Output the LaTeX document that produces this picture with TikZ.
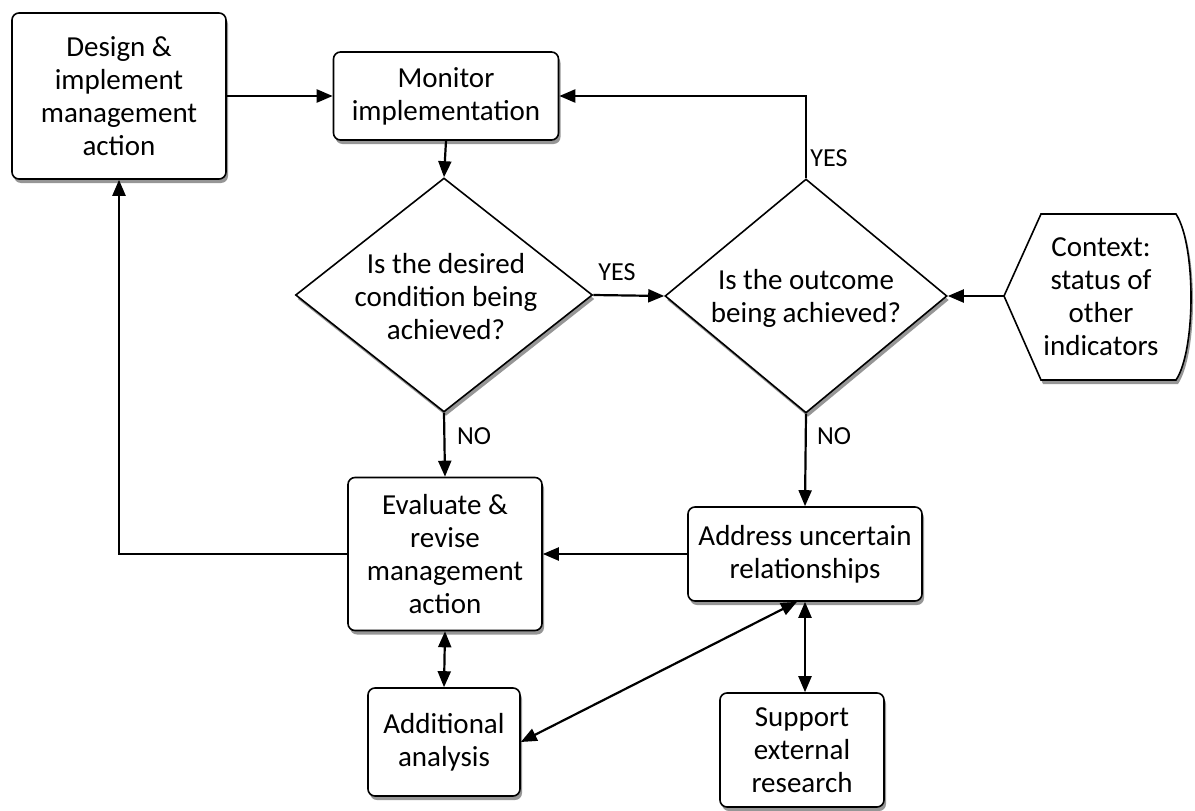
\documentclass[tikz,border=0pt]{standalone}
\usepackage{fontspec}
\setmainfont{Carlito}
\usetikzlibrary{arrows.meta,shapes.geometric,shadows,calc}
\tikzset{
  shad/.style={drop shadow={shadow xshift=2pt, shadow yshift=-4pt, opacity=0.55, fill=black!75}},
  box/.style={draw, line width=1.6pt, rounded corners=7pt, fill=white, align=center, inner sep=0pt, shad,
    font=\fontsize{29}{33}\selectfont},
  dia/.style={draw, line width=1.6pt, diamond, fill=white, inner sep=0pt, shad},
  txt/.style={align=center, inner sep=0pt, font=\fontsize{29}{33}\selectfont},
  lbl/.style={inner sep=0pt, font=\fontsize{26}{30}\selectfont},
  arr/.style={line width=2.2pt, -{Triangle[length=16pt,width=13pt]}},
  darr/.style={line width=2.2pt, {Triangle[length=16pt,width=13pt]}-{Triangle[length=16pt,width=13pt]}},
}
\begin{document}
\begin{tikzpicture}[x=1pt,y=-1pt]
\useasboundingbox (0,0) rectangle (1195,811);
\node[box, minimum width=214pt, minimum height=166pt] (design) at (119,96) {Design \&\\implement\\management\\action};
\node[box, minimum width=225pt, minimum height=88pt] (mon) at (446,96) {Monitor\\implementation};
\node[dia, minimum width=297pt, minimum height=234pt] (d1) at (444,295) {};
\node[txt] (d1t) at (446,297) {Is the desired\\condition being\\achieved?};
\node[dia, minimum width=282pt, minimum height=234pt] (d2) at (806,296) {};
\node[txt] (d2t) at (806,298) {Is the outcome\\being achieved?};
\path[draw, line width=1.6pt, fill=white, shad] (1004,296) -- (1041,214) -- (1176,214)
  .. controls (1196,245) and (1196,350) .. (1176,380) -- (1041,380) -- cycle;
\coordinate (ctx) at (1004,296);
\node[txt] (ctxt) at (1101,297) {Context:\\status of\\other\\indicators};
\node[box, minimum width=194pt, minimum height=153pt] (ev) at (445,554) {Evaluate \&\\revise\\management\\action};
\node[box, minimum width=234pt, minimum height=94pt] (addr) at (805,554) {Address uncertain\\relationships};
\node[box, minimum width=152pt, minimum height=108pt] (add) at (444,742) {Additional\\analysis};
\node[box, minimum width=164pt, minimum height=114pt] (sup) at (802,750) {Support\\external\\research};

\draw[arr] (design.east |- mon.west) -- (mon.west);
\draw[arr] (mon.south) -- (d1.north);
\draw[arr] (d1.east) -- (d2.west);
\draw[arr] (d2.north) |- (mon.east);
\draw[arr] (ctx) -- (d2.east);
\draw[arr] (d1.south) -- (ev.north);
\draw[arr] (d2.south) -- (addr.north);
\draw[arr] (addr.west) -- (ev.east);
\draw[arr] (ev.west) -| (design.south);
\draw[darr] (ev.south) -- (add.north);
\draw[darr] (add.east) -- ($(addr.south)+(-8,0)$);
\draw[darr] (addr.south) -- (addr.south |- sup.north);

\node[lbl] (yes1) at (617,272) {YES};
\node[lbl] (yes2) at (829,158) {YES};
\node[lbl] (no1) at (474,436) {NO};
\node[lbl] (no2) at (834,436) {NO};
\end{tikzpicture}
\end{document}
